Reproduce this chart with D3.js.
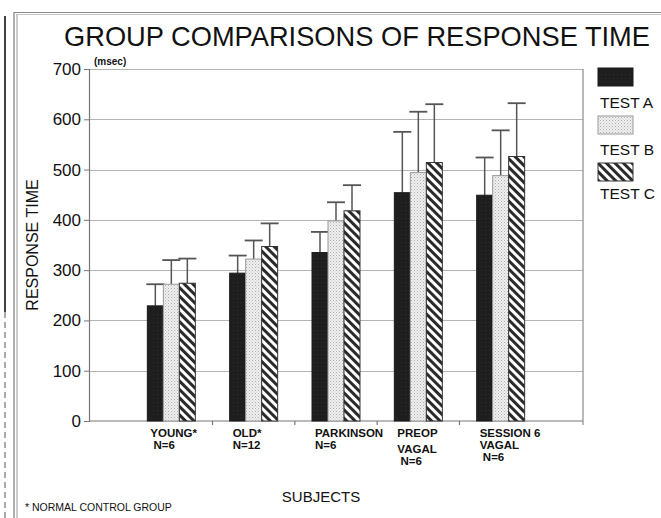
<!DOCTYPE html>
<html>
<head>
<meta charset="utf-8">
<script src="https://cdn.jsdelivr.net/npm/d3@7"></script>
<style>
  html, body { margin: 0; padding: 0; background: #fff; }
  svg { display: block; font-family: "Liberation Sans", Arial, Helvetica, sans-serif; }
</style>
</head>
<body>
<svg id="chart" width="661" height="518"></svg>
<script>
// Subject groups (x-axis labels, one array of lines per group)
const groups = ["YOUNG", "OLD", "PARKINSON", "PREOP VAGAL", "SESSION 6 VAGAL"];
const groupLabels = [
  ["YOUNG*", " N=6"],
  ["OLD*", "N=12"],
  ["PARKINSON", "N=6"],
  ["PREOP", "VAGAL", " N=6"],
  ["SESSION 6", "VAGAL", " N=6"]
];
const tests = ["A", "B", "C"];
const testNames = ["TEST A", "TEST B", "TEST C"];

// Mean response time (msec) per group
const testA = [229, 294, 335, 454, 449];
const testB = [272, 322, 398, 494, 488];
const testC = [274, 347, 418, 514, 526];
// Standard deviation (upper error bar length, msec)
const errA = [43, 35, 41, 121, 75];
const errB = [48, 37, 37, 121, 90];
const errC = [49, 46, 51, 116, 106];

const yTicks = [0, 100, 200, 300, 400, 500, 600, 700];

const svg = d3.select("#chart");
const defs = svg.append("defs");

// Fill patterns for the three tests
const pA = defs.append("pattern").attr("id", "fillA").attr("patternUnits", "userSpaceOnUse")
  .attr("width", 4).attr("height", 4);
pA.append("rect").attr("width", 4).attr("height", 4).attr("fill", "#1e1e1e");
pA.append("rect").attr("x", 1).attr("y", 2).attr("width", 1).attr("height", 1).attr("fill", "#2c2c2c");

const pB = defs.append("pattern").attr("id", "fillB").attr("patternUnits", "userSpaceOnUse")
  .attr("width", 3).attr("height", 3);
pB.append("rect").attr("width", 3).attr("height", 3).attr("fill", "#efefef");
pB.append("rect").attr("x", 0).attr("y", 0).attr("width", 1).attr("height", 1).attr("fill", "#b0b0b0");
pB.append("rect").attr("x", 1.5).attr("y", 1.5).attr("width", 1).attr("height", 1).attr("fill", "#c6c6c6");

// Diagonal hatching running from top-left to bottom-right
const pC = defs.append("pattern").attr("id", "fillC").attr("patternUnits", "userSpaceOnUse")
  .attr("width", 6).attr("height", 6).attr("patternTransform", "rotate(-45)");
pC.append("rect").attr("width", 6).attr("height", 6).attr("fill", "#ffffff");
pC.append("rect").attr("x", 0).attr("width", 3).attr("height", 6).attr("fill", "#2a2a2a");

const fills = { A: "url(#fillA)", B: "url(#fillB)", C: "url(#fillC)" };
const strokes = { A: "#1a1a1a", B: "#9a9a9a", C: "#333" };

// Scales
const plotL = 89, plotR = 583, plotT = 69, plotB = 421;
const y = d3.scaleLinear().domain([0, 700]).range([plotB, plotT]);
const x = d3.scalePoint().domain(groups).range([plotL, plotR]).padding(1);
const groupW = 48;
const xi = d3.scaleBand().domain(tests).range([-groupW / 2, groupW / 2]).padding(0);

// Outer frame
const frame = svg.append("g").attr("fill", "none");
frame.append("line").attr("x1", 14).attr("x2", 661).attr("y1", 12.5).attr("y2", 12.5)
  .attr("stroke", "#8a8a8a").attr("stroke-width", 1.2);
frame.append("line").attr("x1", 17).attr("x2", 661).attr("y1", 14.5).attr("y2", 14.5)
  .attr("stroke", "#c4c4c4").attr("stroke-width", 1);
frame.append("line").attr("x1", 14).attr("x2", 14).attr("y1", 12).attr("y2", 518)
  .attr("stroke", "#7a7a7a").attr("stroke-width", 1.2);
frame.append("line").attr("x1", 17).attr("x2", 17).attr("y1", 14).attr("y2", 518)
  .attr("stroke", "#9a9a9a").attr("stroke-width", 1);
frame.append("line").attr("x1", 5).attr("x2", 5).attr("y1", 16).attr("y2", 312)
  .attr("stroke", "#111").attr("stroke-width", 1.6);
frame.append("line").attr("x1", 5).attr("x2", 5).attr("y1", 312).attr("y2", 518)
  .attr("stroke", "#555").attr("stroke-width", 1).attr("stroke-dasharray", "6,4");

// Title, sized to span the chart width
const title = svg.append("text").attr("x", 357).attr("y", 46).attr("text-anchor", "middle")
  .attr("font-size", 28).attr("fill", "#111")
  .text("GROUP COMPARISONS OF RESPONSE TIME");
const natural = title.node().getComputedTextLength();
title.attr("font-size", Math.min(30, 28 * 586 / natural));

// Grid lines
svg.append("g").selectAll("line").data(yTicks.slice(1)).join("line")
  .attr("x1", plotL).attr("x2", plotR)
  .attr("y1", d => Math.round(y(d)) + 0.5).attr("y2", d => Math.round(y(d)) + 0.5)
  .attr("stroke", "#b4b4b4").attr("stroke-width", 1);

// Y axis
const yAxis = svg.append("g").attr("transform", `translate(${plotL},0)`)
  .call(d3.axisLeft(y).tickValues(yTicks).tickSize(5).tickPadding(3).tickFormat(d3.format("d")));
yAxis.select(".domain").attr("stroke", "#777").attr("stroke-width", 1.2);
yAxis.selectAll(".tick line").attr("stroke", "#777");
yAxis.selectAll(".tick text").attr("font-size", 17).attr("fill", "#111")
  .attr("font-family", "Liberation Sans, Arial, sans-serif");

// Right border and bottom axis
svg.append("line").attr("x1", plotR).attr("x2", plotR).attr("y1", plotT).attr("y2", plotB + 4)
  .attr("stroke", "#8a8a8a").attr("stroke-width", 1.2);
svg.append("line").attr("x1", plotL).attr("x2", plotR).attr("y1", plotB).attr("y2", plotB)
  .attr("stroke", "#777").attr("stroke-width", 1.2);

// Category separator ticks on the bottom axis
const sepTicks = groups.slice(1).map((g, i) => (x(g) + x(groups[i])) / 2);
svg.append("g").selectAll("line").data(sepTicks).join("line")
  .attr("x1", d => d).attr("x2", d => d).attr("y1", plotB).attr("y2", plotB + 4)
  .attr("stroke", "#777").attr("stroke-width", 1.2);

// Bars
const series = [
  { key: "A", values: testA, err: errA },
  { key: "B", values: testB, err: errB },
  { key: "C", values: testC, err: errC }
];
const rows = [];
series.forEach(s => groups.forEach((g, i) => rows.push({ key: s.key, group: g, v: s.values[i], e: s.err[i] })));

const barG = svg.append("g");
// Error bars (upper only) drawn first so bars sit on top of the stems
barG.selectAll("line.stem").data(rows).join("line").attr("class", "stem")
  .attr("x1", d => x(d.group) + xi(d.key) + xi.bandwidth() / 2)
  .attr("x2", d => x(d.group) + xi(d.key) + xi.bandwidth() / 2)
  .attr("y1", d => y(d.v)).attr("y2", d => y(d.v + d.e))
  .attr("stroke", "#555").attr("stroke-width", 1.5);
barG.selectAll("line.cap").data(rows).join("line").attr("class", "cap")
  .attr("x1", d => x(d.group) + xi(d.key) + xi.bandwidth() / 2 - 9)
  .attr("x2", d => x(d.group) + xi(d.key) + xi.bandwidth() / 2 + 9)
  .attr("y1", d => y(d.v + d.e)).attr("y2", d => y(d.v + d.e))
  .attr("stroke", "#555").attr("stroke-width", 1.8);
barG.selectAll("rect").data(rows).join("rect")
  .attr("x", d => x(d.group) + xi(d.key))
  .attr("y", d => y(d.v))
  .attr("width", xi.bandwidth())
  .attr("height", d => y(0) - y(d.v))
  .attr("fill", d => fills[d.key])
  .attr("stroke", d => strokes[d.key]).attr("stroke-width", 1);

// Category labels
const labG = svg.append("g").attr("font-size", 11.5).attr("font-weight", "bold").attr("fill", "#111");
groups.forEach((g, i) => {
  const lines = groupLabels[i];
  const x0 = x(g) - groupW / 2 + 3;
  lines.forEach((t, j) => {
    let yy = 437 + j * 12;
    if (lines.length === 3 && j > 0) yy += (i === 3 ? 4 : 0);
    labG.append("text").attr("x", x0).attr("y", yy).attr("xml:space", "preserve").text(t);
  });
});

// (msec) unit label
svg.append("text").attr("x", 94).attr("y", 65).attr("font-size", 10).attr("font-weight", "bold")
  .attr("fill", "#111").text("(msec)");

// Axis titles
svg.append("text").attr("transform", "translate(38,245) rotate(-90)").attr("text-anchor", "middle")
  .attr("font-size", 16).attr("fill", "#111").text("RESPONSE TIME");
svg.append("text").attr("x", 321).attr("y", 502).attr("text-anchor", "middle")
  .attr("font-size", 15).attr("fill", "#111").text("SUBJECTS");

// Footnote
svg.append("text").attr("x", 25).attr("y", 511).attr("font-size", 10.5).attr("fill", "#111")
  .text("* NORMAL CONTROL GROUP");

// Legend
const leg = svg.append("g");
const legY = [68, 116, 163];
const legTextY = [108, 155, 199];
tests.forEach((k, i) => {
  leg.append("rect").attr("x", 598).attr("y", legY[i]).attr("width", 35).attr("height", 18)
    .attr("fill", fills[k]).attr("stroke", strokes[k]).attr("stroke-width", 1);
  leg.append("text").attr("x", 600).attr("y", legTextY[i]).attr("font-size", 15.5)
    .attr("fill", "#111").text(testNames[i]);
});
</script>
</body>
</html>
